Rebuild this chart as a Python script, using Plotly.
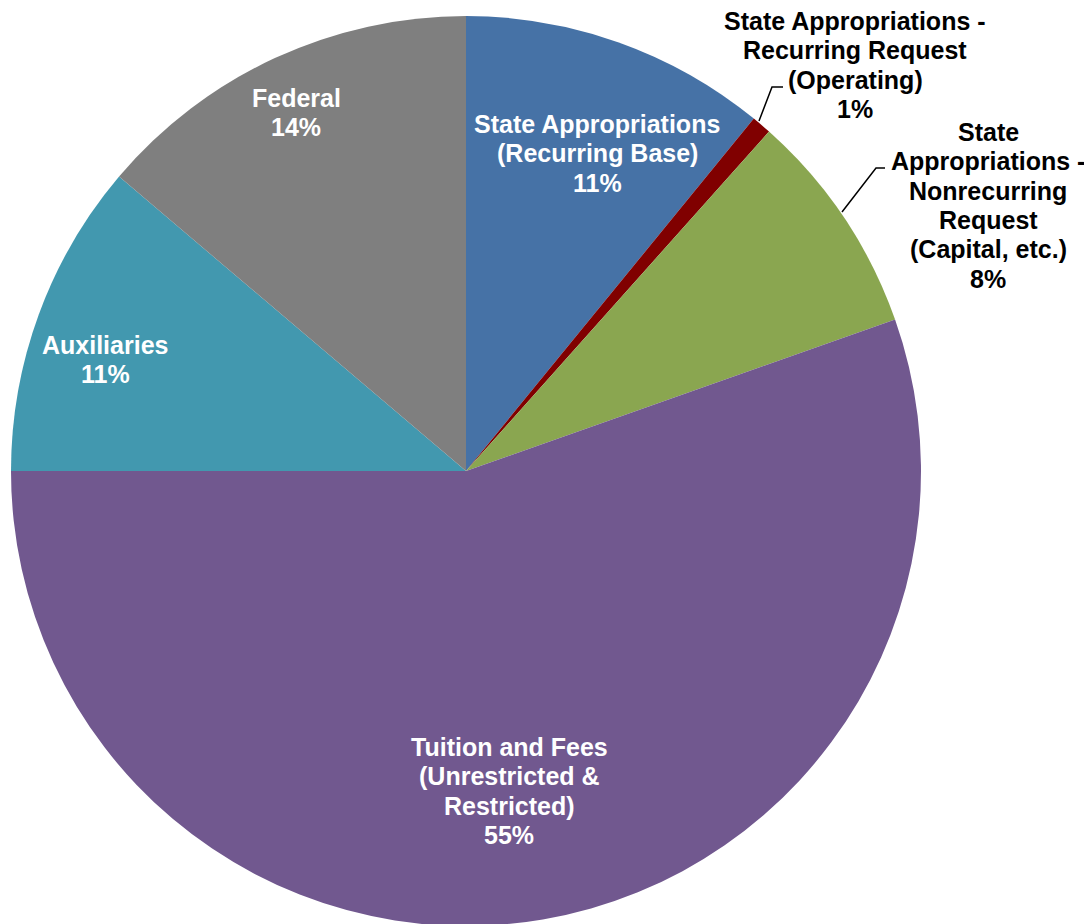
import plotly.graph_objects as go

# ---- data ----
categories = [
    "State Appropriations\n(Recurring Base)",
    "State Appropriations -\nRecurring Request\n(Operating)",
    "State\nAppropriations -\nNonrecurring\nRequest\n(Capital, etc.)",
    "Tuition and Fees\n(Unrestricted &\nRestricted)",
    "Auxiliaries",
    "Federal",
]
values = [10.9, 0.7, 8.0, 55.4, 11.2, 13.8]
colors = ["#4672A6", "#800000", "#8AA650", "#71588F", "#4298AF", "#7F7F7F"]
text_colors = ["white", "black", "black", "white", "white", "white"]

# ---- layout helpers (window pixel positions of label blocks: center x, first-line y) ----
W, H = 1092, 924
OFF = 8  # default page body margin
label_pos = [(597, 123), (855, 20), (988, 131), (509, 746), (105, 344), (296, 97)]
line_gap = 29.3
leaders = [
    None,
    [(759, 121), (772, 87), (783, 87)],
    [(842, 212), (876, 168), (885, 168)],
    None, None, None,
]

def px(x):
    return (x - OFF) / W

def py(y):
    return 1 - (y - OFF) / H

cx, cy, r = 466, 471, 455

fig = go.Figure(go.Pie(
    labels=[c.replace("\n", " ") for c in categories],
    values=values,
    sort=False,
    direction="clockwise",
    rotation=0,
    marker=dict(colors=colors, line=dict(width=0)),
    textinfo="none",
    showlegend=False,
    domain=dict(x=[px(cx - r), px(cx + r)], y=[py(cy + r), py(cy - r)]),
))

annotations = []
total = sum(values)
for cat, v, col, (lx, ly) in zip(categories, values, text_colors, label_pos):
    lines = cat.split("\n") + [f"{round(v / total * 100)}%"]
    for i, line in enumerate(lines):
        annotations.append(dict(
            x=px(lx), y=py(ly + i * line_gap + 1), xref="paper", yref="paper",
            text=line, showarrow=False, xanchor="center", yanchor="middle",
            font=dict(family="Liberation Sans, Arial, sans-serif", size=25,
                      color=col, weight="bold"),
        ))

shapes = []
for pts in leaders:
    if pts:
        path = "M " + " L ".join(f"{px(x)},{py(y)}" for x, y in pts)
        shapes.append(dict(type="path", path=path, xref="paper", yref="paper",
                           line=dict(color="black", width=1.5)))

fig.update_layout(
    width=W, height=H,
    margin=dict(l=0, r=0, t=0, b=0),
    paper_bgcolor="white", plot_bgcolor="white",
    annotations=annotations, shapes=shapes,
)

fig.write_html("out.html")
